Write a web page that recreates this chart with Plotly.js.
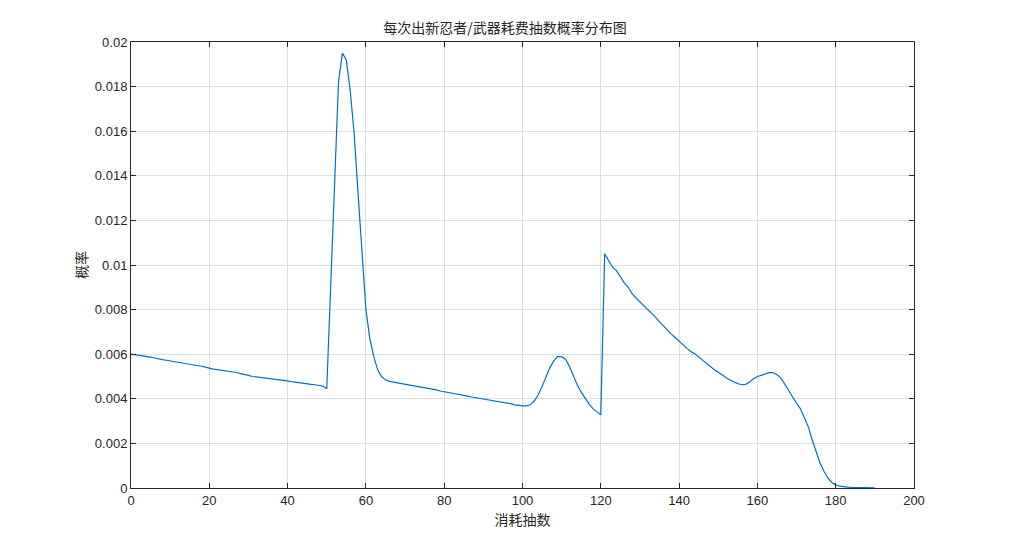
<!DOCTYPE html>
<html>
<head>
<meta charset="utf-8">
<script src="https://cdn.plot.ly/plotly-3.0.1.min.js"></script>
<style>html,body{margin:0;padding:0;background:#fff;}#chart{width:1010px;height:547px;}</style>
</head>
<body>
<div id="chart"></div>
<script>
// x: draw count (抽数), 0..190
const pulls = [];
for (let i = 0; i <= 190; i++) pulls.push(i);
// probability at each integer pull count
const probability = [
  0.00600,0.00598,0.00595,0.00592,0.00590,0.00587,0.00583,0.00578,0.00576,0.00573,
  0.00570,0.00568,0.00566,0.00564,0.00560,0.00555,0.00552,0.00550,0.00546,0.00542,
  0.00537,0.00533,0.00531,0.00529,0.00527,0.00525,0.00523,0.00518,0.00513,0.00510,
  0.00505,0.00500,0.00498,0.00496,0.00495,0.00493,0.00490,0.00487,0.00485,0.00482,
  0.00480,0.00477,0.00474,0.00473,0.00470,0.00467,0.00465,0.00463,0.00460,0.00457,
  0.00445,0.00920,0.01380,0.01820,0.01950,0.01920,0.01780,0.01590,0.01320,0.01050,
  0.00800,0.00670,0.00590,0.00530,0.00500,0.00485,0.00478,0.00475,0.00472,0.00470,
  0.00467,0.00463,0.00460,0.00456,0.00452,0.00450,0.00447,0.00444,0.00440,0.00435,
  0.00432,0.00428,0.00425,0.00424,0.00420,0.00416,0.00412,0.00408,0.00405,0.00402,
  0.00400,0.00397,0.00393,0.00391,0.00389,0.00385,0.00381,0.00378,0.00373,0.00370,
  0.00368,0.00368,0.00373,0.00390,0.00417,0.00455,0.00500,0.00540,0.00570,0.00590,
  0.00588,0.00578,0.00545,0.00500,0.00462,0.00430,0.00400,0.00376,0.00356,0.00340,
  0.00328,0.01050,0.01020,0.00990,0.00975,0.00945,0.00920,0.00900,0.00872,0.00852,
  0.00835,0.00818,0.00800,0.00782,0.00765,0.00745,0.00725,0.00710,0.00690,0.00675,
  0.00658,0.00643,0.00626,0.00612,0.00602,0.00588,0.00575,0.00560,0.00545,0.00530,
  0.00520,0.00508,0.00494,0.00484,0.00475,0.00468,0.00463,0.00465,0.00475,0.00490,
  0.00500,0.00505,0.00510,0.00517,0.00518,0.00508,0.00494,0.00465,0.00432,0.00404,
  0.00380,0.00355,0.00315,0.00275,0.00215,0.00160,0.00112,0.00075,0.00045,0.00025,
  0.00014,0.00008,0.00005,0.00004,0.00003,0.00003,0.00002,0.00002,0.00002,0.00001,
  0.00001
];
const xTicks = [0,20,40,60,80,100,120,140,160,180,200];
const yTicks = [0,0.002,0.004,0.006,0.008,0.01,0.012,0.014,0.016,0.018,0.02];
const yTickText = ['0','0.002','0.004','0.006','0.008','0.01','0.012','0.014','0.016','0.018','0.02'];
const titleText = '每次出新忍者/武器耗费抽数概率分布图';
const xTitle = '消耗抽数';
const yTitle = '概率';

const axisCommon = {
  showline: true, linecolor: '#262626', linewidth: 1, mirror: 'ticks',
  ticks: 'inside', ticklen: 5, tickcolor: '#262626', tickwidth: 1,
  showgrid: true, gridcolor: '#dfdfdf', gridwidth: 1, zeroline: false,
  tickfont: {family: 'Liberation Sans, Arial, sans-serif', size: 13, color: '#262626'}
};

Plotly.newPlot('chart', [{
  x: pulls, y: probability, type: 'scatter', mode: 'lines',
  line: {color: '#0072BD', width: 1.2}, hoverinfo: 'skip'
}], {
  width: 1010, height: 547,
  paper_bgcolor: '#ffffff', plot_bgcolor: '#ffffff',
  margin: {l: 131, r: 96, t: 42, b: 59},
  showlegend: false,
  title: {text: titleText, x: 0.5, xanchor: 'center', y: 0.948, yanchor: 'middle',
    font: {family: 'Noto Sans CJK SC, sans-serif', size: 14, color: '#262626'}},
  xaxis: Object.assign({}, axisCommon, {
    range: [0, 200], tickvals: xTicks, ticktext: xTicks.map(String),
    title: {text: xTitle, standoff: 8, font: {family: 'Noto Sans CJK SC, sans-serif', size: 14, color: '#262626'}}
  }),
  yaxis: Object.assign({}, axisCommon, {
    range: [0, 0.02], tickvals: yTicks, ticktext: yTickText,
    title: {text: yTitle, standoff: 3, font: {family: 'Noto Sans CJK SC, sans-serif', size: 14, color: '#262626'}}
  })
}, {staticPlot: true, displayModeBar: false});
</script>
</body>
</html>
